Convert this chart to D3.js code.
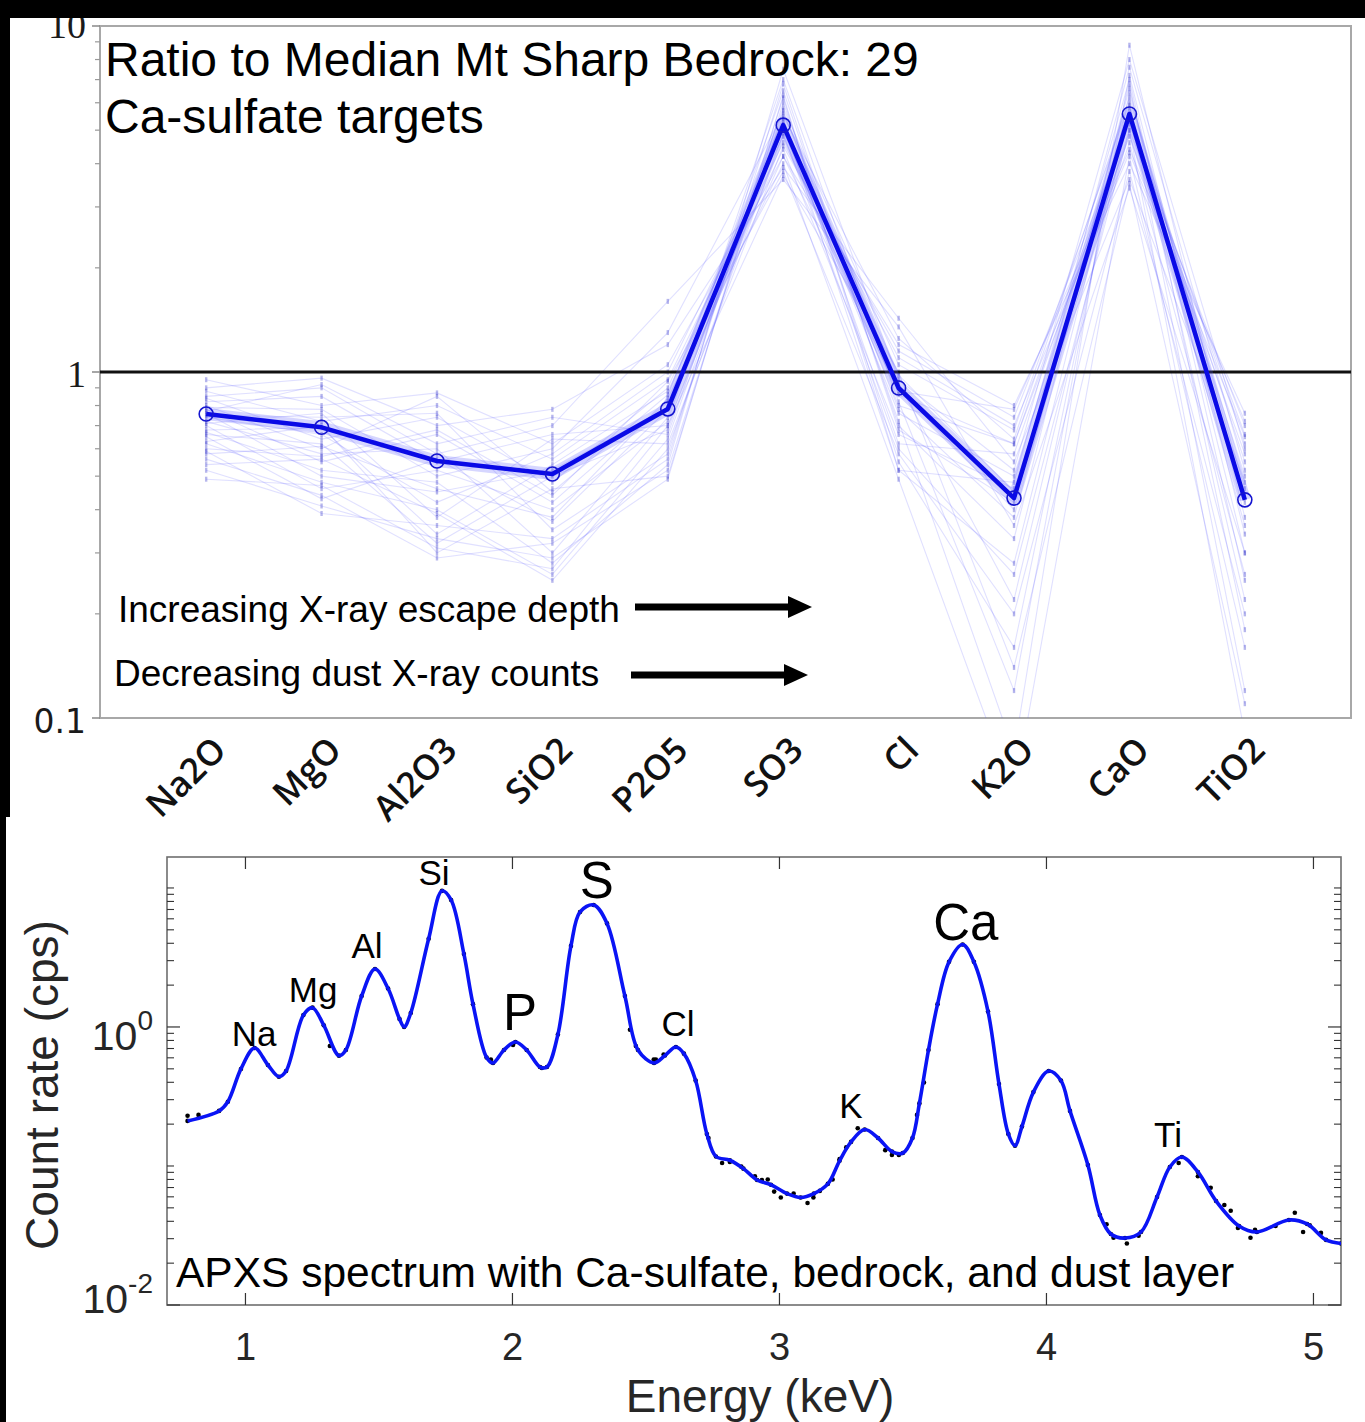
<!DOCTYPE html>
<html><head><meta charset="utf-8">
<script src="https://cdn.jsdelivr.net/npm/d3@7"></script>
<style>body{margin:0;background:#fff;} svg{display:block;}</style>
</head><body>
<svg id="c" width="1365" height="1422"></svg>
<script>
// ---------- Top panel data ----------
const oxides = ["Na2O","MgO","Al2O3","SiO2","P2O5","SO3","Cl","K2O","CaO","TiO2"];
const medianRatio = [0.756,0.692,0.553,0.507,0.782,5.17,0.899,0.432,5.57,0.427];
const targetRatios = [
  [0.95,0.80,0.87,0.62,1.05,4.2,1.20,0.80,4.0,0.76],
  [0.90,0.96,0.70,0.78,1.20,3.9,1.43,0.55,3.6,0.48],
  [0.88,0.72,0.80,0.56,0.95,4.6,1.10,0.70,4.3,0.65],
  [0.85,0.90,0.58,0.70,1.60,3.6,1.35,0.36,3.4,0.30],
  [0.84,0.64,0.74,0.48,0.90,5.0,0.80,0.62,4.8,0.58],
  [0.82,0.85,0.55,0.66,0.70,5.2,0.98,0.45,5.0,0.70],
  [0.80,0.60,0.85,0.45,0.86,5.4,0.62,0.58,5.3,0.36],
  [0.79,0.78,0.50,0.60,1.30,5.6,0.93,0.22,5.5,0.62],
  [0.78,0.55,0.66,0.42,0.82,5.0,0.76,0.50,5.8,0.44],
  [0.77,0.92,0.62,0.74,0.66,5.8,1.05,0.68,6.0,0.22],
  [0.76,0.50,0.45,0.52,0.79,5.1,0.90,0.40,5.6,0.55],
  [0.75,0.74,0.76,0.35,0.58,6.2,0.55,0.16,6.4,0.42],
  [0.74,0.66,0.42,0.58,1.00,4.8,0.86,0.62,5.4,0.50],
  [0.72,0.58,0.60,0.30,0.74,6.5,0.70,0.33,6.8,0.18],
  [0.71,0.76,0.38,0.64,0.62,4.5,1.15,0.74,5.2,0.66],
  [0.70,0.46,0.52,0.40,0.72,7.0,0.82,0.12,7.2,0.34],
  [0.68,0.69,0.34,0.54,0.88,4.4,0.66,0.46,4.6,0.26],
  [0.67,0.52,0.48,0.28,0.54,7.5,0.95,0.52,8.0,0.60],
  [0.66,0.62,0.32,0.50,0.68,5.3,0.52,0.28,5.9,0.12],
  [0.65,0.43,0.56,0.37,0.78,4.2,0.88,0.78,4.4,0.72],
  [0.63,0.70,0.30,0.46,0.50,6.0,0.72,0.08,8.8,0.38],
  [0.62,0.48,0.40,0.26,0.64,5.5,1.25,0.64,6.2,0.46],
  [0.60,0.57,0.68,0.44,0.94,3.8,0.58,0.20,3.8,0.20],
  [0.59,0.39,0.36,0.33,0.56,6.8,0.68,0.42,7.6,0.52],
  [0.58,0.61,0.46,0.38,0.84,4.0,0.49,0.06,4.2,0.16],
  [0.56,0.44,0.29,0.32,0.52,5.7,0.78,0.38,6.6,0.30],
  [0.54,0.56,0.39,0.25,0.60,4.9,0.60,0.26,5.0,0.09],
  [0.52,0.41,0.33,0.29,0.49,6.3,0.52,0.48,7.0,0.25],
  [0.49,0.47,0.31,0.27,0.70,3.7,1.00,0.14,3.5,0.11]
];
const topTickValues = [0.1, 1, 10];
const topTickLabels = ["0.1", "1", "10"];
const titleLines = ["Ratio to Median Mt Sharp Bedrock: 29", "Ca-sulfate targets"];
const arrowTexts = ["Increasing X-ray escape depth", "Decreasing dust X-ray counts"];

// ---------- Bottom panel data ----------
const energy = [0.785,0.903,0.936,0.985,1.036,1.086,1.127,1.154,1.219,1.253,1.295,1.352,1.378,1.437,1.487,1.536,1.579,1.596,1.621,1.688,1.738,1.772,1.820,1.854,1.905,1.929,1.970,2.013,2.055,2.105,2.131,2.172,2.221,2.255,2.306,2.356,2.423,2.472,2.532,2.573,2.614,2.644,2.688,2.730,2.764,2.816,2.867,2.918,2.970,3.030,3.081,3.131,3.183,3.227,3.270,3.321,3.371,3.423,3.464,3.500,3.526,3.560,3.594,3.637,3.688,3.730,3.783,3.824,3.859,3.884,3.910,3.953,4.010,4.056,4.090,4.157,4.202,4.243,4.296,4.356,4.416,4.464,4.509,4.569,4.637,4.723,4.790,4.910,4.978,5.049,5.105];
const fitCounts = [0.211,0.249,0.290,0.499,0.706,0.533,0.439,0.482,1.22,1.377,1.03,0.622,0.683,1.67,2.61,1.89,1.14,1.0,1.26,4.31,9.53,8.2,3.35,1.46,0.603,0.551,0.683,0.780,0.683,0.515,0.515,0.882,3.83,6.72,7.55,5.56,1.67,0.683,0.551,0.623,0.718,0.643,0.412,0.170,0.117,0.110,0.0957,0.0793,0.0733,0.0633,0.0594,0.0633,0.0743,0.109,0.149,0.183,0.159,0.127,0.124,0.159,0.282,0.683,1.46,2.94,3.92,2.94,1.29,0.389,0.170,0.140,0.192,0.340,0.482,0.412,0.249,0.1017,0.0444,0.0324,0.0303,0.0335,0.0598,0.0984,0.116,0.0906,0.056,0.037,0.0335,0.0409,0.0383,0.0294,0.0277];
const measEnergy = [0.785,0.826,1.318,1.921,2.004,2.112,2.442,2.464,2.539,2.531,2.568,2.736,2.787,2.816,2.859,2.910,2.936,2.958,2.982,3.007,3.055,3.107,3.129,3.153,3.201,3.227,3.252,3.295,3.398,3.423,3.449,3.517,3.543,4.227,4.253,4.303,4.347,4.497,4.569,4.617,4.668,4.692,4.719,4.766,4.783,4.860,4.932,4.963,4.988,5.030];
const measCounts = [0.23,0.233,0.73,0.583,0.743,0.507,0.955,0.73,0.583,0.583,0.634,0.159,0.105,0.107,0.0989,0.0843,0.0793,0.080,0.0654,0.0594,0.0633,0.0542,0.0594,0.0662,0.080,0.112,0.136,0.187,0.130,0.120,0.120,0.233,0.399,0.0381,0.0305,0.0277,0.0315,0.105,0.0843,0.0697,0.0524,0.0476,0.0358,0.0305,0.0347,0.037,0.0461,0.0335,0.0374,0.033];
const peakLabels = ["Na","Mg","Al","Si","P","S","Cl","K","Ca","Ti"];
const peakLabelEnergy = [1.034,1.255,1.457,1.708,2.030,2.318,2.622,3.270,3.700,4.457];
const peakLabelCount = [0.73,1.513,3.14,10.5,0.951,8.47,0.861,0.221,4.23,0.137];
const bigPeaks = ["P","S","Ca"];
const energyTicks = [1,2,3,4,5];
const countMajorTicks = [0.01, 1];
const countMajorLabels = [["10","-2"],["10","0"]];
const spectrumCaption = "APXS spectrum with Ca-sulfate, bedrock, and dust layer";
const xTitle = "Energy (keV)";
const yTitle = "Count rate (cps)";

const svg = d3.select("#c");
const SANS = "'Liberation Sans', Arial, sans-serif";

// ================= TOP PANEL =================
const T = {l:100, r:1351, t:26, b:718};
const xTop = d3.scalePoint().domain(oxides).range([T.l, T.r]).padding(0.92);
const yTop = d3.scaleLog().domain([0.1, 10]).range([T.b, T.t]);

svg.append("defs").append("clipPath").attr("id","clipTop")
  .append("rect").attr("x",T.l).attr("y",T.t).attr("width",T.r-T.l).attr("height",T.b-T.t);

const gTop = svg.append("g");
gTop.append("rect").attr("x",T.l).attr("y",T.t).attr("width",T.r-T.l).attr("height",T.b-T.t)
  .attr("fill","#fff").attr("stroke","#a8a8a8").attr("stroke-width",2);

const topMinor = [];
[0.1,1].forEach(dec => { for (let k=2;k<=9;k++) topMinor.push(dec*k); });
gTop.selectAll(".tmin").data(topMinor).enter().append("line")
  .attr("x1",T.l).attr("x2",T.l-5).attr("y1",d=>yTop(d)).attr("y2",d=>yTop(d))
  .attr("stroke","#999").attr("stroke-width",1.2);
gTop.selectAll(".tmaj").data(topTickValues).enter().append("line")
  .attr("x1",T.l).attr("x2",T.l-8).attr("y1",d=>yTop(d)).attr("y2",d=>yTop(d))
  .attr("stroke","#888").attr("stroke-width",1.5);
topTickValues.forEach((v,i)=>{
  const serif = v >= 1;
  gTop.append("text").attr("x",86).attr("y", yTop(v) + (v===10 ? 12 : 15))
    .attr("text-anchor","end")
    .attr("font-family", serif ? "'Liberation Serif', 'DejaVu Serif', serif" : "'DejaVu Sans', sans-serif")
    .attr("font-size", serif ? 38 : 33).attr("fill","#1a1a1a").text(topTickLabels[i]);
});

const pTop = gTop.append("g").attr("clip-path","url(#clipTop)");
const lineTop = d3.line().x((d,i)=>xTop(oxides[i])).y(d=>yTop(d));
pTop.selectAll(".tgt").data(targetRatios).enter().append("path")
  .attr("d", lineTop).attr("fill","none").attr("stroke","rgb(70,70,255)")
  .attr("stroke-opacity",0.17).attr("stroke-width",1.1);
targetRatios.forEach(row=>{
  pTop.selectAll(null).data(row).enter().append("rect")
    .attr("x",(d,i)=>xTop(oxides[i])-1.2).attr("y",d=>yTop(d)-2.5)
    .attr("width",2.4).attr("height",5)
    .attr("fill","rgb(50,50,200)").attr("fill-opacity",0.35);
});
pTop.append("line").attr("x1",T.l).attr("x2",T.r).attr("y1",yTop(1)).attr("y2",yTop(1))
  .attr("stroke","#111").attr("stroke-width",3);
pTop.append("path").attr("d", lineTop(medianRatio)).attr("fill","none")
  .attr("stroke","rgb(90,90,255)").attr("stroke-opacity",0.25).attr("stroke-width",12).attr("stroke-linejoin","round");
pTop.append("path").attr("d", lineTop(medianRatio)).attr("fill","none")
  .attr("stroke","#0a0ae6").attr("stroke-width",4.5).attr("stroke-linejoin","round");
pTop.selectAll(".med").data(medianRatio).enter().append("circle")
  .attr("cx",(d,i)=>xTop(oxides[i])).attr("cy",d=>yTop(d)).attr("r",7)
  .attr("fill","none").attr("stroke","#1515d0").attr("stroke-width",1.6);

titleLines.forEach((t,i)=>{
  gTop.append("text").attr("x",105).attr("y",76 + i*57).attr("font-family",SANS)
    .attr("font-size",48).attr("fill","#000").text(t);
});
const arrowRows = [{tx:118, ty:622, x0:635, x1:812, y:607},{tx:114, ty:686, x0:631, x1:808, y:675}];
arrowRows.forEach((a,i)=>{
  gTop.append("text").attr("x",a.tx).attr("y",a.ty).attr("font-family",SANS)
    .attr("font-size",37).attr("fill","#000").text(arrowTexts[i]);
  gTop.append("line").attr("x1",a.x0).attr("x2",a.x1-22).attr("y1",a.y).attr("y2",a.y)
    .attr("stroke","#000").attr("stroke-width",7);
  gTop.append("path").attr("d",`M${a.x1-24},${a.y-11} L${a.x1},${a.y} L${a.x1-24},${a.y+11} Z`).attr("fill","#000");
});

gTop.selectAll(".xl").data(oxides).enter().append("text")
  .attr("transform", d=>`translate(${xTop(d)+22},752) rotate(-45)`)
  .attr("text-anchor","end").attr("font-family","'Open Sans', 'DejaVu Sans', sans-serif")
  .attr("font-weight",600).attr("font-size",35).attr("fill","#111").text(d=>d);

// ================= BOTTOM PANEL =================
const B = {l:167, r:1341, t:857, b:1305};
const xBot = d3.scaleLinear().domain([0.708, 5.105]).range([B.l, B.r]);
const yBot = d3.scaleLog().domain([0.01, 16.7]).range([B.b, B.t]);

svg.select("defs").append("clipPath").attr("id","clipBot")
  .append("rect").attr("x",B.l).attr("y",B.t).attr("width",B.r-B.l).attr("height",B.b-B.t);

const gBot = svg.append("g");
gBot.append("rect").attr("x",B.l).attr("y",B.t).attr("width",B.r-B.l).attr("height",B.b-B.t)
  .attr("fill","#fff").attr("stroke","#6e6e6e").attr("stroke-width",1.6);

const axB = gBot.append("g").attr("transform",`translate(0,${B.b})`)
  .call(d3.axisBottom(xBot).tickValues(energyTicks).tickSize(-12).tickPadding(28).tickFormat(d3.format("d")));
axB.select(".domain").remove();
axB.selectAll(".tick line").attr("stroke","#333").attr("stroke-width",1.2);
axB.selectAll(".tick text").attr("font-family",SANS).attr("font-size",38).attr("fill","#262626");
const axT = gBot.append("g").attr("transform",`translate(0,${B.t})`)
  .call(d3.axisTop(xBot).tickValues(energyTicks).tickSize(-12).tickFormat(""));
axT.select(".domain").remove();
axT.selectAll(".tick line").attr("stroke","#333").attr("stroke-width",1.2);

const botMinor = [];
[0.01,0.1,1,10].forEach(dec=>{ for(let k=1;k<=9;k++){ const v=dec*k; if (v<=16.7 && !countMajorTicks.includes(v)) botMinor.push(v);} });
[B.l, B.r].forEach((x0,side)=>{
  const dir = side===0 ? 1 : -1;
  gBot.selectAll(null).data(botMinor).enter().append("line")
    .attr("x1",x0).attr("x2",x0+dir*7).attr("y1",d=>yBot(d)).attr("y2",d=>yBot(d))
    .attr("stroke","#333").attr("stroke-width",1.1);
  gBot.selectAll(null).data(countMajorTicks).enter().append("line")
    .attr("x1",x0).attr("x2",x0+dir*13).attr("y1",d=>yBot(d)).attr("y2",d=>yBot(d))
    .attr("stroke","#333").attr("stroke-width",1.2);
});
countMajorTicks.forEach((v,i)=>{
  const t = gBot.append("text").attr("x",153).attr("y", yBot(v) + (v===1 ? 23 : 8))
    .attr("text-anchor","end").attr("font-family",SANS).attr("fill","#262626");
  t.append("tspan").attr("font-size",41).text(countMajorLabels[i][0]);
  t.append("tspan").attr("font-size",28).attr("dy",-20).text(countMajorLabels[i][1]);
});

gBot.append("text").attr("x",760).attr("y",1412).attr("text-anchor","middle")
  .attr("font-family",SANS).attr("font-size",46).attr("fill","#262626").text(xTitle);
gBot.append("text").attr("transform","translate(58,1085) rotate(-90)").attr("text-anchor","middle")
  .attr("font-family",SANS).attr("font-size",46).attr("fill","#262626").text(yTitle);

const pBot = gBot.append("g").attr("clip-path","url(#clipBot)");
pBot.selectAll(".md").data(measEnergy).enter().append("circle")
  .attr("cx",d=>xBot(d)).attr("cy",(d,i)=>yBot(measCounts[i])).attr("r",2.3).attr("fill","#000");
pBot.selectAll(".md2").data(energy).enter().append("circle")
  .attr("cx",d=>xBot(d)).attr("cy",(d,i)=>yBot(fitCounts[i])).attr("r",2.3).attr("fill","#000");
const specLine = d3.line().curve(d3.curveCatmullRom.alpha(0.5))
  .x(d=>xBot(d[0])).y(d=>yBot(d[1]));
pBot.append("path").attr("d", specLine(energy.map((e,i)=>[e,fitCounts[i]])))
  .attr("fill","none").attr("stroke","#0a14f5").attr("stroke-width",3.6).attr("stroke-linejoin","round");

peakLabels.forEach((p,i)=>{
  gBot.append("text").attr("x",xBot(peakLabelEnergy[i])).attr("y",yBot(peakLabelCount[i]))
    .attr("text-anchor","middle").attr("font-family",SANS)
    .attr("font-size", bigPeaks.includes(p) ? 51 : 35).attr("fill","#000").text(p);
});
gBot.append("text").attr("x",176).attr("y",1287).attr("font-family",SANS)
  .attr("font-size",42.5).attr("fill","#000").text(spectrumCaption);

svg.append("rect").attr("x",0).attr("y",0).attr("width",1365).attr("height",18).attr("fill","#000");
svg.append("rect").attr("x",0).attr("y",0).attr("width",10).attr("height",817).attr("fill","#000");
svg.append("rect").attr("x",0).attr("y",817).attr("width",6).attr("height",605).attr("fill","#000");
</script>
</body></html>
